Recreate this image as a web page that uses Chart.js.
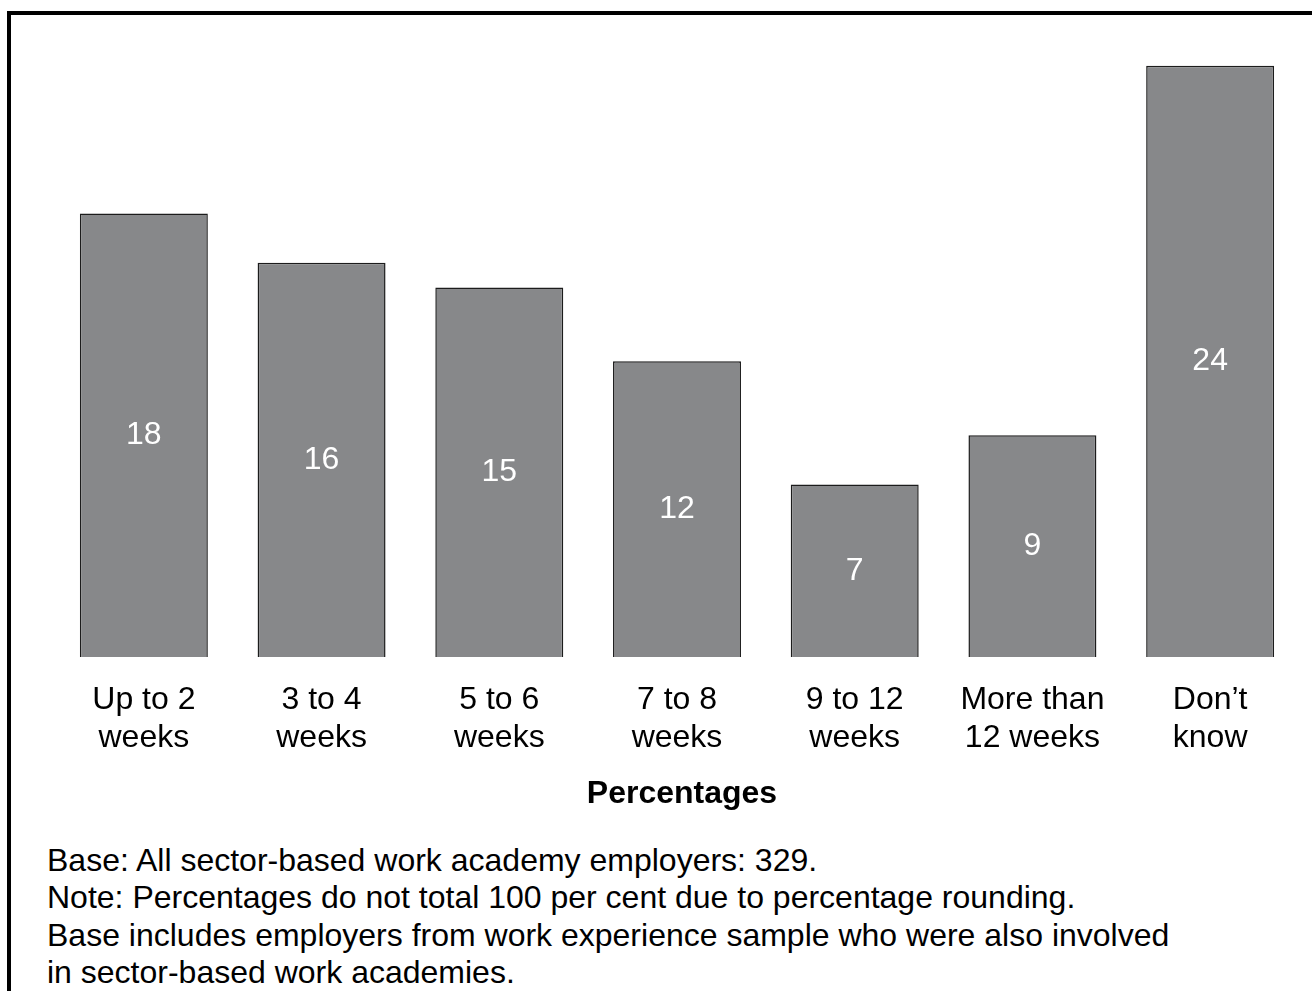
<!DOCTYPE html>
<html>
<head>
<meta charset="utf-8">
<script src="https://cdn.jsdelivr.net/npm/chart.js@4"></script>
<style>
  body { margin: 0; background: #fff; font-family: "Liberation Sans", Arial, sans-serif; overflow: hidden; }
  #frame { position: absolute; left: 7px; top: 11px; width: 1400px; height: 1100px; border: 4px solid #000; }
  #wrap { position: absolute; left: 0; top: 0; width: 1312px; height: 789px; }
  #xtitle { position: absolute; left: 482px; width: 400px; top: 773px; text-align: center; font-size: 32px; line-height: 38px; font-weight: bold; color: #000; }
  #notes { position: absolute; left: 47px; top: 842px; font-size: 32px; line-height: 37.4px; color: #000; white-space: nowrap; }
</style>
</head>
<body>
<div id="frame"></div>
<div id="wrap"><canvas id="chart"></canvas></div>
<div id="xtitle"></div>
<div id="notes">
  <div>Base: All sector-based work academy employers: 329.</div>
  <div>Note: Percentages do not total 100 per cent due to percentage rounding.</div>
  <div>Base includes employers from work experience sample who were also involved</div>
  <div>in sector-based work academies.</div>
</div>
<script>
const categories = [
  ['Up to 2', 'weeks'],
  ['3 to 4', 'weeks'],
  ['5 to 6', 'weeks'],
  ['7 to 8', 'weeks'],
  ['9 to 12', 'weeks'],
  ['More than', '12 weeks'],
  ['Don\u2019t', 'know']
];
const percentages = [18, 16, 15, 12, 7, 9, 24];
const axisTitle = 'Percentages';

const FONT = '"Liberation Sans", Arial, sans-serif';

document.getElementById('xtitle').textContent = axisTitle;

// white value labels in the middle of each bar
const barValues = {
  id: 'barValues',
  afterDatasetsDraw(chart) {
    const ctx = chart.ctx;
    const meta = chart.getDatasetMeta(0);
    ctx.save();
    ctx.fillStyle = '#fff';
    ctx.font = '32px ' + FONT;
    ctx.textAlign = 'center';
    ctx.textBaseline = 'middle';
    meta.data.forEach((bar, i) => {
      ctx.fillText(String(percentages[i]), bar.x, (bar.y + bar.base) / 2);
    });
    ctx.restore();
  }
};

new Chart(document.getElementById('chart'), {
  type: 'bar',
  data: {
    labels: categories,
    datasets: [{
      data: percentages,
      backgroundColor: '#87888a',
      borderColor: '#1c1c1c',
      borderWidth: 1.5,
      categoryPercentage: 1,
      barPercentage: 0.72
    }]
  },
  options: {
    responsive: true,
    maintainAspectRatio: false,
    animation: false,
    events: [],
    layout: { padding: { top: 41, left: 55, right: 13, bottom: 0 } },
    plugins: { legend: { display: false }, tooltip: { enabled: false } },
    scales: {
      y: { display: false, min: 0, max: 25 },
      x: {
        grid: { display: false, drawTicks: false },
        border: { display: false },
        afterFit(scale) { scale.height = 132; },
        ticks: {
          color: '#000',
          padding: 24,
          maxRotation: 0,
          autoSkip: false,
          font: { family: FONT, size: 32, lineHeight: 1.19 }
        }
      }
    }
  },
  plugins: [barValues]
});
</script>
</body>
</html>
